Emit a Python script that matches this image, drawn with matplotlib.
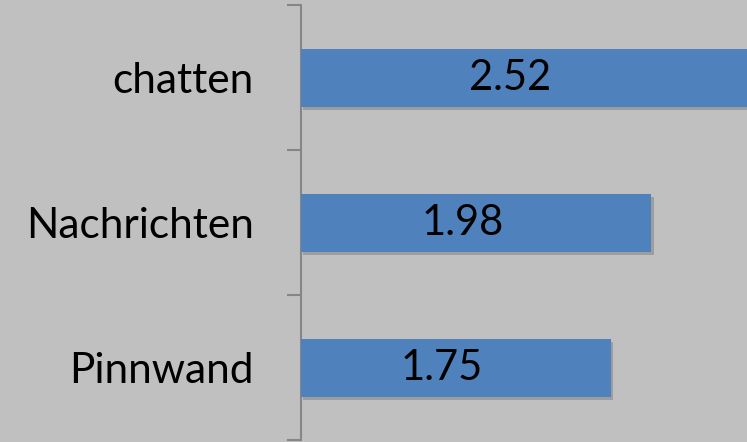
import matplotlib
matplotlib.use("Agg")
import matplotlib.pyplot as plt
import matplotlib.patheffects as pe

categories = ["Pinnwand", "Nachrichten", "chatten"]
values = [1.75, 1.98, 2.52]

bg = "#c0c0c0"
bar_color = "#4f81bd"
axis_color = "#868686"

fig = plt.figure(figsize=(7.47, 4.42), dpi=100, facecolor=bg)
ax = fig.add_axes([301/747, 2/442, 446/747, 435/442], facecolor=bg)

pos = list(range(len(categories)))
bars = ax.barh(pos, values, height=0.4, color=bar_color, zorder=3)
for b in bars:
    b.set_path_effects([pe.SimplePatchShadow(offset=(1.5, -2.5), shadow_rgbFace="#000000", alpha=0.18), pe.Normal()])

for p, v in zip(pos, values):
    ax.annotate(f"{v:.2f}", xy=(v/2, p), xytext=(-10, 0), textcoords="offset points",
                ha="center", va="center", fontsize=30, family="Lato", color="black", zorder=4)

ax.set_xlim(0, 2.52)
ax.set_ylim(-0.5, 2.5)
ax.set_yticks(pos)
ax.set_yticklabels(categories, family="Lato", fontsize=30.5)
ax.set_yticks([-0.5, 0.5, 1.5, 2.5], minor=True)
ax.tick_params(axis="y", which="major", length=0, pad=34)
ax.tick_params(axis="y", which="minor", length=10, width=1.5, color=axis_color)
ax.set_xticks([])
for s in ["top", "right", "bottom"]:
    ax.spines[s].set_visible(False)
ax.spines["left"].set_color(axis_color)
ax.spines["left"].set_linewidth(1.5)

fig.savefig("out.png", dpi=100, facecolor=bg)
